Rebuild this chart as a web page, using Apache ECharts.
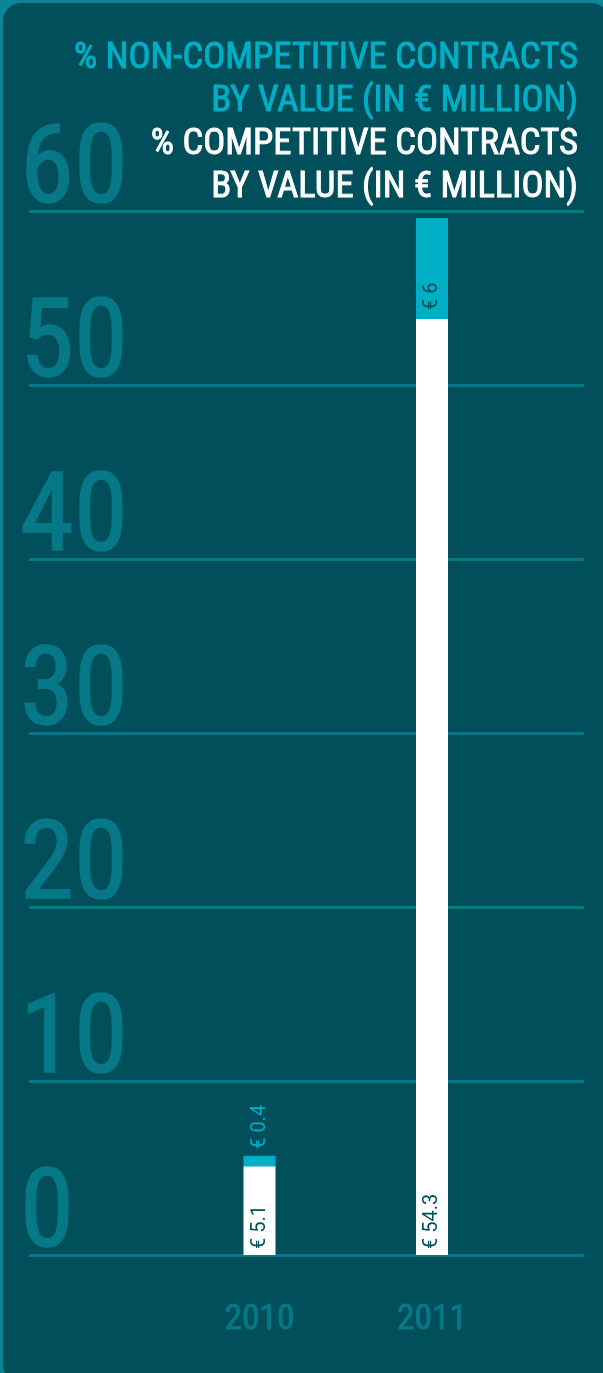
<!DOCTYPE html>
<html>
<head>
<meta charset="utf-8">
<script src="https://cdn.jsdelivr.net/npm/echarts@6/dist/echarts.min.js"></script>
<style>
  html, body { margin: 0; padding: 0; width: 603px; height: 1373px; overflow: hidden; background: #0a8697; }
  #panel { position: absolute; left: 3px; top: 3px; width: 606px; height: 1380px; border-radius: 18px; background: #014f5a; }
  #chart { position: absolute; left: 0; top: 0; width: 603px; height: 1373px; }
</style>
</head>
<body>
<div id="panel"></div>
<div id="chart"></div>
<script>
// ---- data ----
const years = ['2010', '2011'];
const seriesNames = ['% COMPETITIVE CONTRACTS\nBY VALUE (IN € MILLION)', '% NON-COMPETITIVE CONTRACTS\nBY VALUE (IN € MILLION)'];
const competitiveValues = [5.1, 53.8];
const nonCompetitiveValues = [0.6, 5.8];
const competitiveLabels = ['€ 5.1', '€ 54.3'];
const nonCompetitiveLabels = ['€ 0.4', '€ 6'];
const yTicks = [0, 10, 20, 30, 40, 50, 60];

const BG = '#014f5a';
const CYAN = '#00afc6';
const TEAL = '#067888';

// pick a condensed font that is available
const cv = document.createElement('canvas').getContext('2d');
function w(font, txt, size) { cv.font = size + 'px ' + font; return cv.measureText(txt).width; }
const probe = 'ABCDEFGHIJKLMNOPQRSTUVWXYZ0123456789';
const candidates = ['Roboto Condensed', 'Liberation Sans Narrow', 'Arial Narrow', 'Nimbus Sans Narrow', 'DejaVu Sans Condensed'];
let chosen = 'DejaVu Sans Condensed';
for (const c of candidates) {
  const a = w('"' + c + '", monospace', probe, 50);
  const b = w('monospace', probe, 50);
  if (Math.abs(a - b) > 1) { chosen = c; break; }
}
const NARROW = '"' + chosen + '", sans-serif';
function fit(txt, target, maxSize) {
  const s = 100 * target / w(NARROW, txt, 100);
  return Math.min(s, maxSize);
}
const legendSize = fit('% NON-COMPETITIVE CONTRACTS', 504, 40);
const ySize = fit('40', 108, 116);
const xSize = fit('2010', 70, 40);

const chart = echarts.init(document.getElementById('chart'), null, { renderer: 'canvas' });

const labelBase = {
  show: true,
  rotate: 90,
  align: 'left',
  verticalAlign: 'middle',
  fontFamily: 'Roboto, sans-serif',
  fontSize: 20,
  color: BG
};

chart.setOption({
  backgroundColor: 'transparent',
  animation: false,
  legend: {
    data: [
      { name: seriesNames[1], textStyle: { color: CYAN, textBorderColor: CYAN, textBorderWidth: 0.9 } },
      { name: seriesNames[0], textStyle: { color: '#ffffff', textBorderColor: '#ffffff', textBorderWidth: 0.9 } }
    ],
    orient: 'vertical',
    align: 'right',
    right: 20,
    top: 37,
    icon: 'none',
    itemWidth: 0,
    itemHeight: 0,
    itemGap: 0,
    padding: 0,
    selectedMode: false,
    textStyle: { fontFamily: NARROW, fontSize: legendSize, lineHeight: 43 }
  },
  grid: [
    { left: 29, right: 19, top: 211, bottom: 118 },
    { left: 173.25, right: 84.75, top: 211, bottom: 118 }
  ],
  xAxis: [
    { gridIndex: 0, type: 'category', data: years, show: false },
    {
      gridIndex: 1, type: 'category', data: years,
      axisLine: { show: false }, axisTick: { show: false },
      axisLabel: { color: TEAL, textBorderColor: TEAL, textBorderWidth: 0.9, fontFamily: NARROW, fontSize: xSize, margin: 48 }
    }
  ],
  yAxis: [
    {
      gridIndex: 0, type: 'value', min: 0, max: 60, interval: 10,
      axisLine: { show: false }, axisTick: { show: false },
      splitLine: { lineStyle: { color: TEAL, width: 3 } },
      axisLabel: {
        color: TEAL, textBorderColor: TEAL, textBorderWidth: 1.5, fontFamily: NARROW, fontSize: ySize,
        align: 'left', verticalAlign: 'bottom', margin: 9, lineHeight: ySize * 0.66,
        formatter: v => yTicks.includes(v) ? String(v) : ''
      }
    },
    { gridIndex: 1, type: 'value', min: 0, max: 60, interval: 10, show: false, splitLine: { show: false } }
  ],
  series: [
    {
      name: seriesNames[0], type: 'bar', stack: 'total', xAxisIndex: 1, yAxisIndex: 1,
      barWidth: 32,
      itemStyle: { color: '#ffffff' },
      label: Object.assign({}, labelBase, { position: 'insideBottom', distance: 6, formatter: p => competitiveLabels[p.dataIndex] }),
      data: competitiveValues
    },
    {
      name: seriesNames[1], type: 'bar', stack: 'total', xAxisIndex: 1, yAxisIndex: 1,
      barWidth: 32,
      itemStyle: { color: CYAN },
      label: Object.assign({}, labelBase, { formatter: p => nonCompetitiveLabels[p.dataIndex] }),
      data: nonCompetitiveValues.map((v, i) => (
        v < 2
          ? { value: v, label: { position: 'top', distance: 7, color: CYAN } }
          : { value: v, label: { position: 'insideBottom', distance: 9, color: BG } }
      ))
    }
  ]
});
</script>
</body>
</html>
